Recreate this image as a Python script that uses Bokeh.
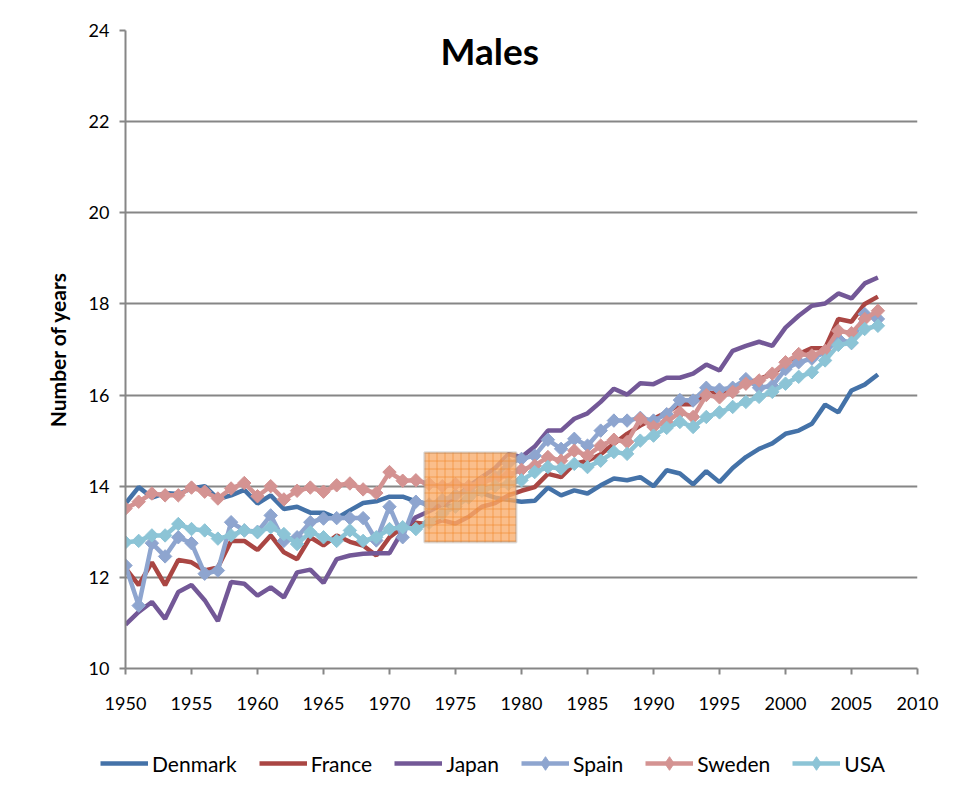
import numpy as np
from bokeh.plotting import figure
from bokeh.layouts import column
from bokeh.models import (ColumnDataSource, Legend, LegendItem, BoxAnnotation, Label,
                          FixedTicker, Range1d)
from bokeh.embed import file_html
from bokeh.resources import INLINE

years = list(range(1950, 2008))

denmark = [13.62, 13.98, 13.75, 13.85, 13.83, 13.95, 14.0, 13.72, 13.8, 13.92,
           13.62, 13.8, 13.5, 13.55, 13.42, 13.42, 13.3, 13.47, 13.63, 13.67,
           13.77, 13.77, 13.67, 13.6, 13.6, 13.55, 13.8, 13.85, 13.75, 13.7,
           13.66, 13.68, 13.97, 13.8, 13.91, 13.84, 14.02, 14.17, 14.13, 14.2,
           14.0, 14.35, 14.28, 14.04, 14.33, 14.09, 14.4, 14.64, 14.82, 14.94,
           15.15, 15.22, 15.37, 15.79, 15.62, 16.1, 16.23, 16.45]
france = [12.2, 11.83, 12.33, 11.83, 12.38, 12.33, 12.15, 12.22, 12.8, 12.8,
          12.6, 12.92, 12.55, 12.4, 12.88, 12.7, 12.92, 12.78, 12.7, 12.48,
          12.88, 13.1, 13.2, 13.16, 13.25, 13.18, 13.33, 13.55, 13.63, 13.8,
          13.9, 13.98, 14.27, 14.2, 14.49, 14.56, 14.7, 14.93, 15.15, 15.33,
          15.48, 15.62, 15.8, 15.8, 16.06, 16.02, 16.14, 16.25, 16.35, 16.46,
          16.68, 16.9, 17.03, 17.03, 17.67, 17.61, 18.0, 18.16]
japan = [10.96, 11.24, 11.46, 11.09, 11.68, 11.83, 11.5, 11.04, 11.9, 11.86,
         11.6, 11.78, 11.56, 12.11, 12.17, 11.88, 12.4, 12.48, 12.52, 12.53,
         12.53, 13.03, 13.32, 13.45, 13.6, 13.75, 14.0, 14.2, 14.4, 14.7,
         14.64, 14.87, 15.22, 15.22, 15.48, 15.6, 15.85, 16.14, 16.01, 16.26,
         16.24, 16.38, 16.38, 16.47, 16.67, 16.54, 16.97, 17.08, 17.17, 17.08,
         17.48, 17.74, 17.96, 18.01, 18.23, 18.12, 18.45, 18.58]
spain = [12.26, 11.38, 12.75, 12.46, 12.88, 12.75, 12.08, 12.15, 13.21, 13.03,
         13.0, 13.36, 12.8, 12.88, 13.21, 13.29, 13.3, 13.3, 13.3, 12.81,
         13.55, 12.88, 13.66, 13.6, 13.7, 13.8, 13.9, 14.1, 14.2, 14.5,
         14.6, 14.67, 15.02, 14.82, 15.04, 14.89, 15.22, 15.44, 15.44, 15.5,
         15.44, 15.58, 15.89, 15.88, 16.16, 16.12, 16.16, 16.35, 16.16, 16.2,
         16.57, 16.72, 16.8, 16.94, 17.23, 17.14, 17.78, 17.67]
sweden = [13.51, 13.66, 13.84, 13.8, 13.8, 13.97, 13.88, 13.73, 13.95, 14.07,
          13.78, 14.0, 13.71, 13.9, 13.97, 13.88, 14.02, 14.06, 13.93, 13.85,
          14.31, 14.12, 14.13, 14.05, 14.0, 14.05, 14.0, 14.1, 14.15, 14.25,
          14.36, 14.45, 14.64, 14.56, 14.78, 14.67, 14.89, 15.02, 14.97, 15.48,
          15.3, 15.41, 15.62, 15.52, 16.0, 15.95, 16.07, 16.25, 16.32, 16.47,
          16.72, 16.9, 16.87, 16.97, 17.41, 17.36, 17.67, 17.85]
usa = [12.77, 12.8, 12.92, 12.92, 13.17, 13.06, 13.03, 12.85, 12.92, 13.03,
       12.99, 13.1, 12.95, 12.73, 12.99, 12.88, 12.8, 13.03, 12.8, 12.88,
       13.06, 13.1, 13.06, 13.2, 13.4, 13.55, 13.75, 13.9, 14.0, 14.05,
       14.13, 14.31, 14.42, 14.39, 14.49, 14.42, 14.56, 14.75, 14.71, 15.0,
       15.11, 15.28, 15.41, 15.3, 15.52, 15.62, 15.74, 15.85, 15.96, 16.07,
       16.25, 16.4, 16.5, 16.76, 17.1, 17.15, 17.45, 17.52]

series_names = ["Denmark", "France", "Japan", "Spain", "Sweden", "USA"]
series_values = [denmark, france, japan, spain, sweden, usa]
series_colors = ["#4472A8", "#AA4643", "#735897", "#8EA5CF", "#D49392", "#8CC4D6"]
series_markers = [False, False, False, True, True, True]

x_ticks = [1950, 1955, 1960, 1965, 1970, 1975, 1980, 1985, 1990, 1995, 2000, 2005, 2010]
y_ticks = [10, 12, 14, 16, 18, 20, 22, 24]

# highlighted period box
box_left, box_right = 1972.65, 1979.6
box_bottom, box_top = 12.77, 14.74

FONT = "Lato"
GREY = "#868686"
LINE_W = 4.5
MARKER_SIZE = 9.5

p = figure(width=947, height=720, output_backend="svg", toolbar_location=None,
           x_range=Range1d(1950, 2010), y_range=Range1d(10, 24),
           min_border_left=125, min_border_right=30, min_border_top=30, min_border_bottom=52)
p.outline_line_color = None
p.background_fill_color = "white"
p.border_fill_color = "white"

p.xgrid.grid_line_color = None
p.ygrid.grid_line_color = GREY
p.ygrid.grid_line_width = 2
p.ygrid.ticker = FixedTicker(ticks=y_ticks)

p.xaxis.ticker = FixedTicker(ticks=x_ticks)
p.yaxis.ticker = FixedTicker(ticks=y_ticks)
for ax in (p.xaxis[0], p.yaxis[0]):
    ax.axis_line_color = GREY
    ax.axis_line_width = 2
    ax.major_tick_line_color = GREY
    ax.major_tick_line_width = 2
    ax.major_tick_in = 0
    ax.major_tick_out = 6
    ax.minor_tick_line_color = None
    ax.major_label_text_font = FONT
    ax.major_label_text_font_size = "18px"
    ax.major_label_text_color = "black"
p.xaxis.major_label_standoff = 22
p.yaxis.major_label_standoff = 10

p.yaxis.axis_label = "Number of years"
p.yaxis.axis_label_text_font = FONT
p.yaxis.axis_label_text_font_style = "bold"
p.yaxis.axis_label_text_font_size = "21px"
p.yaxis.axis_label_text_color = "black"
p.yaxis.axis_label_standoff = 16

for name, vals, col, mk in zip(series_names, series_values, series_colors, series_markers):
    src = ColumnDataSource(dict(x=years, y=vals))
    p.line("x", "y", source=src, line_color=col, line_width=LINE_W)
    if mk:
        p.scatter("x", "y", source=src, marker="square", angle=np.pi / 4,
                  size=MARKER_SIZE, fill_color=col, line_color=col)

box = BoxAnnotation(left=box_left, right=box_right, bottom=box_bottom, top=box_top,
                    fill_color="#F9AE6E", fill_alpha=0.8,
                    hatch_pattern="+", hatch_color="#F08424", hatch_scale=8,
                    hatch_weight=1, hatch_alpha=0.6,
                    line_color="#8E8E8E", line_width=2.5)
p.add_layout(box)

title = Label(x=1977.6, y=23.57, text="Males", text_font=FONT, text_font_style="bold",
              text_font_size="37px", text_align="center", text_baseline="middle",
              text_color="black")
p.add_layout(title)

# legend strip below the chart (its own frame, not aligned with the chart frame)
lf = figure(width=947, height=66, output_backend="svg", toolbar_location=None,
            x_range=Range1d(0, 1), y_range=Range1d(0, 1),
            x_axis_type=None, y_axis_type=None,
            min_border_left=0, min_border_right=0, min_border_top=20, min_border_bottom=0)
lf.frame_align = False
lf.outline_line_color = None
lf.xgrid.visible = False
lf.ygrid.visible = False
items = []
for name, col, mk in zip(series_names, series_colors, series_markers):
    key_src = ColumnDataSource(dict(x=[np.nan], y=[np.nan]))
    rs = [lf.line("x", "y", source=key_src, line_color=col, line_width=LINE_W)]
    if mk:
        rs.append(lf.scatter("x", "y", source=key_src, marker="diamond",
                             size=15, fill_color=col, line_color=col))
    items.append(LegendItem(label=name, renderers=rs))

legend = Legend(items=items, orientation="horizontal", location="left",
                glyph_width=48, glyph_height=34, label_standoff=4, spacing=22,
                padding=0, margin=100, border_line_color=None, background_fill_alpha=0,
                label_text_font=FONT, label_text_font_size="21px",
                label_text_color="black")
lf.add_layout(legend, "center")

layout = column(p, lf, spacing=0)
open("out.html", "w").write(file_html(layout, INLINE))
